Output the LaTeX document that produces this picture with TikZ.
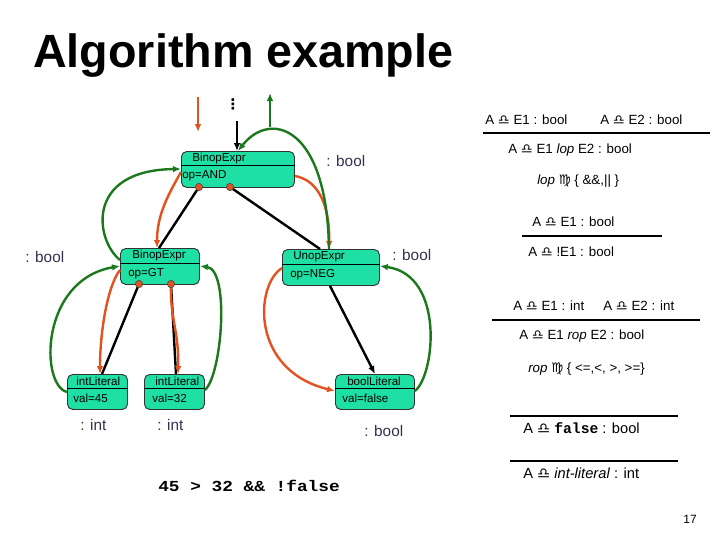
\documentclass[tikz,border=0pt]{standalone}
\usepackage{fontspec}
\usepackage{graphicx}
\setmainfont{Liberation Sans}
\newfontfamily\symf{DejaVu Sans}
\newfontfamily\codef{Liberation Mono}
\usetikzlibrary{arrows.meta,calc}
\definecolor{tealbox}{RGB}{30,224,164}
\definecolor{inhc}{RGB}{226,82,32}
\definecolor{sync}{RGB}{28,120,28}
\definecolor{typec}{RGB}{50,50,80}
\newcommand{\turn}{{\symf\bfseries ♎}}
\newcommand{\elem}{{\symf ♍}}
\begin{document}
\begin{tikzpicture}[x=0.75pt,y=-0.75pt,
  astbox/.style={draw=black!80, fill=tealbox, rounded corners=4pt, line width=0.7pt, inner sep=0pt, anchor=north west},
  ntext/.style={font=\fontsize{8.7}{10}\selectfont, inner sep=0pt, anchor=west},
  tree/.style={draw=black, line width=1.8pt},
  treearr/.style={tree, -{Latex[length=6pt,width=5pt]}},
  inh/.style={draw=inhc, line width=1.8pt, -{Latex[length=6pt,width=5pt]}},
  syn/.style={draw=sync, line width=1.8pt, -{Latex[length=6pt,width=5pt]}},
  rdot/.style={circle, fill=inhc, draw=black!70, inner sep=0pt, minimum size=5.5pt, line width=0.5pt},
  typelab/.style={font=\fontsize{11.5}{13}\selectfont, text=typec, anchor=west, inner sep=0pt},
  rulet/.style={font=\fontsize{10}{12}\selectfont, anchor=west, inner sep=0pt},
  rline/.style={draw=black, line width=0.8pt}
]
\useasboundingbox (0,0) rectangle (720,540);

% title
\node[font=\bfseries\fontsize{35}{40}\selectfont, anchor=base west, inner sep=0pt] (title) at (33,67) {Algorithm example};

% AST boxes
\node[astbox, minimum width={(294-181)*0.75pt}, minimum height={(187-151)*0.75pt}] (and) at (181,151) {};
\draw[line width=0.7pt] (and.west |- 0,165) -- (and.east |- 0,165);
\node[ntext] (and-t) at (192,158) {BinopExpr};
\node[ntext] (and-v) at (182,176) {op=AND};

\node[astbox, minimum width={(199-120)*0.75pt}, minimum height={(284-248)*0.75pt}] (gt) at (120,248) {};
\draw[line width=0.7pt] (gt.west |- 0,263) -- (gt.east |- 0,263);
\node[ntext] (gt-t) at (132,255.5) {BinopExpr};
\node[ntext] (gt-v) at (128,273.5) {op=GT};

\node[astbox, minimum width={(379-282)*0.75pt}, minimum height={(285-249)*0.75pt}] (unop) at (282,249) {};
\draw[line width=0.7pt] (unop.west |- 0,264) -- (unop.east |- 0,264);
\node[ntext] (unop-t) at (293,256.5) {UnopExpr};
\node[ntext] (unop-v) at (290,274.5) {op=NEG};

\node[astbox, minimum width={(127-67)*0.75pt}, minimum height={(409-374)*0.75pt}] (int45) at (67,374) {};
\draw[line width=0.7pt] (int45.west |- 0,388) -- (int45.east |- 0,388);
\node[ntext] (int45-t) at (76,381) {intLiteral};
\node[ntext] (int45-v) at (73,398.5) {val=45};

\node[astbox, minimum width={(204-144)*0.75pt}, minimum height={(409-374)*0.75pt}] (int32) at (144,374) {};
\draw[line width=0.7pt] (int32.west |- 0,388) -- (int32.east |- 0,388);
\node[ntext] (int32-t) at (155,381) {intLiteral};
\node[ntext] (int32-v) at (152,398.5) {val=32};

\node[astbox, minimum width={(414-335)*0.75pt}, minimum height={(409-374)*0.75pt}] (bool) at (335,374) {};
\draw[line width=0.7pt] (bool.west |- 0,388) -- (bool.east |- 0,388);
\node[ntext] (bool-t) at (347,381) {boolLiteral};
\node[ntext] (bool-v) at (342,398.5) {val=false};

% dots of the tree
\node[font=\symf\bfseries\fontsize{11}{12}\selectfont, inner sep=0pt] (vd) at (233,104) {⋮};
\coordinate (topin) at (237,121);
\coordinate (d1c) at (199,187);
\coordinate (d2c) at (230,187);
\coordinate (d3c) at (139,284);
\coordinate (d4c) at (171,284);

% black tree edges
\draw[treearr] (topin) -- (and.north -| topin);
\draw[tree] (d1c) -- (gt.north -| 159,0);
\draw[tree] (d2c) -- (unop.north -| 320,0);
\draw[tree] (d3c) -- (int45.north -| 102,0);
\draw[tree] (d4c) -- (int32.north -| 176,0);
\draw[treearr] (unop.south -| 330,0) -- (bool.north -| 375,0);

% inherited (red)
\coordinate (rtop) at (198,97);
\coordinate (rtopend) at (198,132);
\draw[inh] (rtop) -- (rtopend);
\draw[inh] (and.west |- 0,172) .. controls (168,195) and (157,215) .. (gt.north -| 157,0);
\draw[inh] (and.east |- 0,176) .. controls (318,180) and (330,205) .. (unop.north -| 329,0);
\draw[inh] (gt.west |- 0,270) .. controls (108,285) and (100,330) .. (int45.north -| 100,0);
\draw[inh] (d4c) .. controls (170,320) and (179,330) .. (int32.north -| 178,0);
\draw[inh] (unop.west |- 0,268) .. controls (255,285) and (250,370) .. (bool.west |- 0,391);

% synthesized (green)
\draw[syn] (int45.west |- 0,392) .. controls (40,385) and (40,280) .. (gt.west |- 0,266);
\draw[syn] (int32.east |- 0,390) .. controls (222,375) and (230,270) .. (gt.east |- 0,266);
\draw[syn] (gt.west |- 0,260) .. controls (95,240) and (85,170) .. (and.west |- 0,169);
\draw[syn] (bool.east |- 0,391) .. controls (435,375) and (445,275) .. (unop.east |- 0,266);
\draw[syn] (unop.north -| 329,0) .. controls (327,125) and (270,110) .. (and.north -| 238,0);
\coordinate (gs) at (270,127);
\coordinate (ge) at (270,93);
\draw[syn] (gs) -- (ge);

% red dots
\node[rdot] (d1) at (d1c) {};
\node[rdot] (d2) at (d2c) {};
\node[rdot] (d3) at (d3c) {};
\node[rdot] (d4) at (d4c) {};

% type labels
\node[typelab] (ty1) at (326,161) {: bool};
\node[typelab] (ty2) at (25,257) {: bool};
\node[typelab] (ty3) at (392,255) {: bool};
\node[typelab] (ty4) at (80,425) {: int};
\node[typelab] (ty5) at (157,425) {: int};
\node[typelab] (ty6) at (364,431) {: bool};

% code
\node[inner sep=0pt, font=\codef\bfseries\fontsize{11.5}{13}\selectfont] (code) at (249,486) {\scalebox{1.16}[1]{45 > 32 \&\& !false}};

% rules
\node[rulet] (r1) at (485,120) {A \turn{} E1 : bool};
\node[rulet] (r2) at (600,120) {A \turn{} E2 : bool};
\draw[rline] (483,133) -- (710,133);
\node[rulet] (r3) at (508,150) {A \turn{} E1 \textit{lop} E2 : bool};
\node[rulet] (r4) at (537,181) {\textit{lop} \elem{} \{ \&\&,|| \}};

\node[rulet] (r5) at (532,222) {A \turn{} E1 : bool};
\draw[rline] (522,236) -- (662,236);
\node[rulet] (r6) at (528,252) {A \turn{} !E1 : bool};

\node[rulet] (r7) at (513,306) {A \turn{} E1 : int};
\node[rulet] (r7b) at (603,306) {A \turn{} E2 : int};
\draw[rline] (492,320) -- (700,320);
\node[rulet] (r8) at (519,336) {A \turn{} E1 \textit{rop} E2 : bool};
\node[rulet] (r9) at (528,369) {\textit{rop} \elem{} \{ <=,<, >, >=\}};

\draw[rline] (510,416) -- (678,416);
\node[rulet, font=\fontsize{11}{13}\selectfont] (r10) at (523,428) {A \turn{} {\codef\bfseries false} : bool};
\draw[rline] (510,461) -- (678,461);
\node[rulet, font=\fontsize{11}{13}\selectfont] (r11) at (523,473) {A \turn{} \textit{int-literal} : int};

\node[font=\fontsize{9}{11}\selectfont, inner sep=0pt] (pg) at (690,519) {17};
\end{tikzpicture}
\end{document}
